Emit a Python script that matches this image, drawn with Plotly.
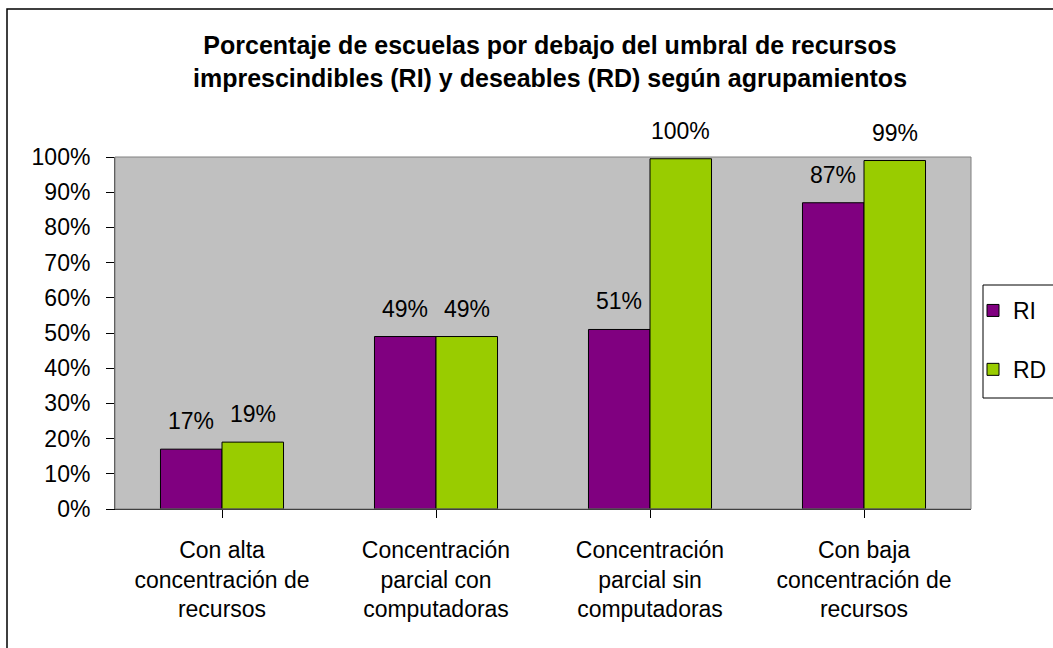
import plotly.graph_objects as go

categories = ["Con alta<br>concentración de<br>recursos",
              "Concentración<br>parcial con<br>computadoras",
              "Concentración<br>parcial sin<br>computadoras",
              "Con baja<br>concentración de<br>recursos"]
ri_values = [17, 49, 51, 87]
rd_values = [19, 49, 99.5, 99]
ri_labels = ["17%", "49%", "51%", "87%"]
rd_labels = ["19%", "49%", "100%", "99%"]
y_ticks = list(range(0, 101, 10))
y_ticktext = [f"{v}%" for v in y_ticks]

FONT = "Arial, 'Liberation Sans', sans-serif"
FS = 23
W, H = 1053, 648
L, R, T, B = 115, 82, 157, 139
PW, PH = W - L - R, H - T - B
BARGAP = 0.425
bw = (1 - BARGAP) / 2

fig = go.Figure()
fig.add_trace(go.Bar(name="RI", x=list(range(4)), y=ri_values,
                     marker=dict(color="#800080", line=dict(color="black", width=1)),
                     legendgroup="ri"))
fig.add_trace(go.Bar(name="RD", x=list(range(4)), y=rd_values,
                     marker=dict(color="#99CC00", line=dict(color="black", width=1)),
                     legendgroup="rd"))

anns = []
for i, (v, t) in enumerate(zip(ri_values, ri_labels)):
    anns.append(dict(x=i - bw / 2, y=v, xref="x", yref="y", text=t, showarrow=False,
                     yanchor="bottom", yshift=13, font=dict(size=FS, family=FONT, color="black")))
for i, (v, t) in enumerate(zip(rd_values, rd_labels)):
    anns.append(dict(x=i + bw / 2, y=v, xref="x", yref="y", text=t, showarrow=False,
                     yanchor="bottom", yshift=13, font=dict(size=FS, family=FONT, color="black")))

fig.update_layout(
    width=W, height=H,
    margin=dict(l=L, r=R, t=T, b=B, autoexpand=False),
    paper_bgcolor="white", plot_bgcolor="#C0C0C0",
    barmode="group", bargap=BARGAP, bargroupgap=0,
    font=dict(family=FONT, size=FS, color="black"),
    title=dict(text="Porcentaje de escuelas por debajo del umbral de recursos<br>imprescindibles (RI) y deseables (RD) según agrupamientos",
               x=550 / W, xanchor="center", xref="container",
               y=1 - 54 / H, yanchor="middle", yref="container",
               font=dict(size=25, family=FONT, color="black", weight="bold")),
    xaxis=dict(tickmode="array", tickvals=list(range(4)), ticktext=categories,
               range=[-0.5, 3.5], showgrid=False, zeroline=False,
               ticks="outside", ticklen=8, tickcolor="black", tickwidth=1,
               showline=True, linecolor="black", linewidth=1,
               ticklabelstandoff=12,
               tickfont=dict(size=FS, family=FONT)),
    yaxis=dict(range=[0, 100], tickmode="array", tickvals=y_ticks, ticktext=y_ticktext,
               showgrid=False, zeroline=False,
               ticks="outside", ticklen=8, tickcolor="black", tickwidth=1,
               showline=True, linecolor="#404040", linewidth=1,
               ticklabelstandoff=11,
               tickfont=dict(size=FS, family=FONT)),
    legend=dict(x=(973 - L) / PW, xanchor="left", y=(H - B - 289) / PH, yanchor="top",
                bgcolor="rgba(0,0,0,0)", borderwidth=0,
                font=dict(size=FS, family=FONT), tracegroupgap=26, traceorder="grouped"),
    annotations=anns,
    shapes=[
        dict(type="rect", xref="paper", yref="paper", x0=0, x1=1, y0=0, y1=1,
             line=dict(color="#808080", width=1), layer="above"),
        dict(type="rect", xref="paper", yref="paper",
             x0=(983 - L) / PW, x1=(W + 20 - L) / PW,
             y0=(H - B - 398) / PH, y1=(H - B - 285) / PH,
             line=dict(color="black", width=1), fillcolor="white", layer="below"),
        dict(type="rect", xref="paper", yref="paper",
             x0=(7 - L) / PW, x1=(W + 20 - L) / PW, y0=-(H + 20 - (H - B)) / PH, y1=(H - B - 9) / PH,
             line=dict(color="black", width=1.5)),
    ],
)

fig.write_html("out.html", config={"displayModeBar": False},
               post_script="document.body.style.margin='0';document.body.style.overflow='hidden';")
